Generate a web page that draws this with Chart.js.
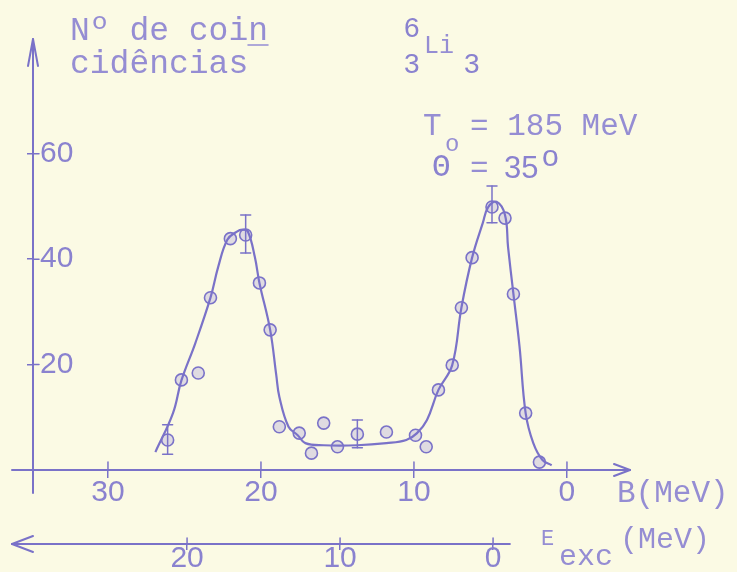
<!DOCTYPE html>
<html>
<head>
<meta charset="utf-8">
<script src="https://cdn.jsdelivr.net/npm/chart.js@4.4.0/dist/chart.umd.min.js"></script>
<style>
  html, body { margin:0; padding:0; background:#fbfae4; overflow:hidden; }
  #chart { display:block; }
</style>
</head>
<body>
<canvas id="chart" width="737" height="572"></canvas>
<script>
// ── Dati ───────────────────────────────────────
// energia di separazione B (MeV) e numero di coincidenze
const bPoints = [26.1, 25.2, 24.1, 23.3, 22.0, 21.0, 20.1, 19.4, 18.8, 17.5, 16.7, 15.9, 15.0,
                 13.7, 11.8, 9.9, 9.2, 8.4, 7.5, 6.9, 6.2, 4.9, 4.05, 3.5, 2.7, 1.8];
const counts  = [5.7, 17.1, 18.4, 32.7, 43.9, 44.6, 35.5, 26.6, 8.2, 7.0, 3.2, 8.9, 4.4,
                 6.8, 7.2, 6.6, 4.4, 15.2, 19.9, 30.8, 40.3, 49.9, 47.8, 33.4, 10.8, 1.5];

// curva tracciata a mano
const curveB      = [26.9, 25.75, 25.2, 24.3, 23.3, 22.8, 22.2, 21.6, 21.2, 20.85, 20.4, 20.1, 19.4,
                     19.0, 18.8, 18.2, 17.6, 17.1, 15.9, 13.7, 11.8, 10.5, 9.8, 9.15, 8.4,
                     7.5, 6.9, 6.2, 5.5, 5.15, 4.6, 4.05, 3.85, 3.5, 3.1, 2.7, 2.2, 1.6, 1.0];
const curveCounts = [3.4, 10.8, 17.0, 24.0, 32.7, 38.5, 43.7, 45.2, 45.6, 45.2, 40.4, 35.5, 26.6,
                     18.0, 13.9, 8.2, 6.6, 5.1, 4.7, 4.7, 5.1, 5.7, 7.0, 9.5, 15.2,
                     19.9, 30.8, 40.3, 46.9, 49.9, 50.9, 48.4, 42.3, 33.4, 23.4, 10.8, 5.1, 1.9, 0.9];

// barre d'errore
const errB  = [26.1, 21.0, 13.7, 4.9];
const errLo = [3.0, 41.2, 4.2, 46.9];
const errHi = [8.6, 48.4, 9.5, 53.9];

// tick
const bTicks = [0, 10, 20, 30];
const eTicks = [0, 10, 20];
const yTicks = [20, 40, 60];

const INK  = '#7a72c8';
const TXT  = '#958dd3';
const DIG  = '#8a82cf';
const PAPER = '#fbfae4';

// ── Decorazioni: frecce, estensioni assi, barre d'errore, testi ──
const paperPlugin = {
    id: 'paper',
    beforeDraw(chart) {
        const c = chart.ctx;
        c.save();
        c.fillStyle = PAPER;
        c.fillRect(0, 0, chart.width, chart.height);
        c.restore();
    },
    afterDraw(chart) {
        const c = chart.ctx;
        const { x, e, y } = chart.scales;
        const y0 = y.getPixelForValue(0);
        const xAxis = chart.chartArea.left;
        const eY = e.top;

        c.save();
        c.strokeStyle = INK;
        c.lineWidth = 2;
        c.lineCap = 'round';

        const line = (x1, y1, x2, y2) => { c.beginPath(); c.moveTo(x1, y1); c.lineTo(x2, y2); c.stroke(); };

        // asse y: freccia in alto, prolungamento sotto
        line(xAxis, y.top, xAxis, 493);
        line(xAxis, y.top - 1, xAxis - 5, y.top + 26);
        line(xAxis, y.top - 1, xAxis + 5, y.top + 26);

        // asse B: prolungamento a sinistra, freccia a destra
        line(12, y0, xAxis, y0);
        const right = chart.chartArea.right;
        line(right, y0, right - 16, y0 - 6);
        line(right, y0, right - 16, y0 + 6);

        // asse E_exc con freccia a sinistra
        line(12, eY, e.getPixelForValue(-1.1), eY);
        line(12, eY, 33, eY - 8);
        line(12, eY, 33, eY + 8);

        // tacche che attraversano gli assi
        c.lineWidth = 1.5;
        bTicks.forEach(v => { const p = x.getPixelForValue(v); line(p, y0 - 8, p, y0); });
        eTicks.forEach(v => { const p = e.getPixelForValue(v); line(p, eY - 6, p, eY); });
        yTicks.forEach(v => { const p = y.getPixelForValue(v); line(xAxis, p, xAxis + 6, p); });

        // barre d'errore
        errB.forEach((b, i) => {
            const px = x.getPixelForValue(b);
            const top = y.getPixelForValue(errHi[i]);
            const bot = y.getPixelForValue(errLo[i]);
            line(px, top, px, bot);
            line(px - 5, top, px + 5, top);
            line(px - 5, bot, px + 5, bot);
        });

        // testi
        c.textBaseline = 'alphabetic';
        c.textAlign = 'left';
        const txt = (s, tx, ty, font, col) => { c.font = font; c.fillStyle = col; c.fillText(s, tx, ty); };
        const mono = px => `${px}px "Liberation Mono", monospace`;
        const sans = px => `${px}px "Liberation Sans", sans-serif`;

        txt('Nº de coin', 70, 40, mono(33), TXT);
        txt('cidências', 70, 73, mono(33), TXT);
        c.lineWidth = 1.5; c.strokeStyle = TXT;
        line(248, 45, 268, 45);

        txt('6', 404, 37, sans(28), DIG);
        txt('Li', 424, 53, mono(25), TXT);
        txt('3', 404, 73, sans(28), DIG);
        txt('3', 464, 73, sans(28), DIG);

        txt('T', 423, 135, mono(31), TXT);
        txt('o', 445, 151, mono(24), TXT);
        txt('= 185 MeV', 470, 135, mono(31), TXT);

        txt('Θ', 432, 176, mono(31), DIG);
        txt('=', 470, 177, mono(31), TXT);
        txt('35', 504, 178, sans(31), DIG);
        txt('o', 542, 166, sans(30), DIG);

        txt('B(MeV)', 617, 502, mono(31), TXT);

        txt('E', 541, 545, mono(22), TXT);
        txt('exc', 559, 565, mono(30), TXT);
        txt('(MeV)', 620, 548, mono(30), TXT);

        c.restore();
    }
};

// ── Grafico ─────────────────────────────────
const ctx = document.getElementById('chart').getContext('2d');
new Chart(ctx, {
    type: 'scatter',
    data: {
        datasets: [
            {
                label: 'curva',
                data: curveB.map((b, i) => ({ x: b, y: curveCounts[i] })),
                showLine: true,
                borderColor: INK,
                borderWidth: 2.2,
                pointRadius: 0,
                tension: 0.4,
                fill: false
            },
            {
                label: 'coincidenze',
                data: bPoints.map((b, i) => ({ x: b, y: counts[i] })),
                showLine: false,
                pointStyle: 'circle',
                pointRadius: 6,
                borderWidth: 1.6,
                borderColor: INK,
                backgroundColor: 'rgba(160,150,220,0.3)'
            }
        ]
    },
    options: {
        responsive: false,
        animation: false,
        layout: { padding: { left: 10, right: 107, top: 40, bottom: 0 } },
        plugins: { legend: { display: false }, tooltip: { enabled: false } },
        scales: {
            x: {
                type: 'linear', position: 'bottom', reverse: true, weight: 0,
                min: -4.12, max: 34.9,
                afterBuildTicks: s => { s.ticks = bTicks.map(v => ({ value: v })); },
                afterFit: s => { s.height = 74; },
                border: { display: true, color: INK, width: 2 },
                grid: { drawOnChartArea: false, drawTicks: true, tickLength: 8, color: INK, lineWidth: 1.5 },
                ticks: { color: DIG, autoSkip: false, maxRotation: 0, padding: 0,
                         font: { family: 'Liberation Sans', size: 30, lineHeight: 1 } }
            },
            e: {
                type: 'linear', position: 'bottom', reverse: true, weight: 1,
                min: -8.95, max: 30.07,
                afterBuildTicks: s => { s.ticks = eTicks.map(v => ({ value: v })); },
                afterFit: s => { s.height = 28; },
                border: { display: false },
                grid: { drawOnChartArea: false, drawTicks: true, tickLength: 6, color: INK, lineWidth: 1.5 },
                ticks: { color: DIG, autoSkip: false, maxRotation: 0, padding: -6,
                         font: { family: 'Liberation Sans', size: 30, lineHeight: 1 } }
            },
            y: {
                type: 'linear', position: 'left',
                min: 0, max: 81.6,
                afterBuildTicks: s => { s.ticks = yTicks.map(v => ({ value: v })); },
                afterFit: s => { s.width = 23; },
                border: { display: true, color: INK, width: 2 },
                grid: { drawOnChartArea: false, drawTicks: true, tickLength: 6, color: INK, lineWidth: 1.5 },
                ticks: { mirror: true, padding: 7, color: DIG,
                         font: { family: 'Liberation Sans', size: 30, lineHeight: 1 } }
            }
        }
    },
    plugins: [paperPlugin]
});
</script>
</body>
</html>
